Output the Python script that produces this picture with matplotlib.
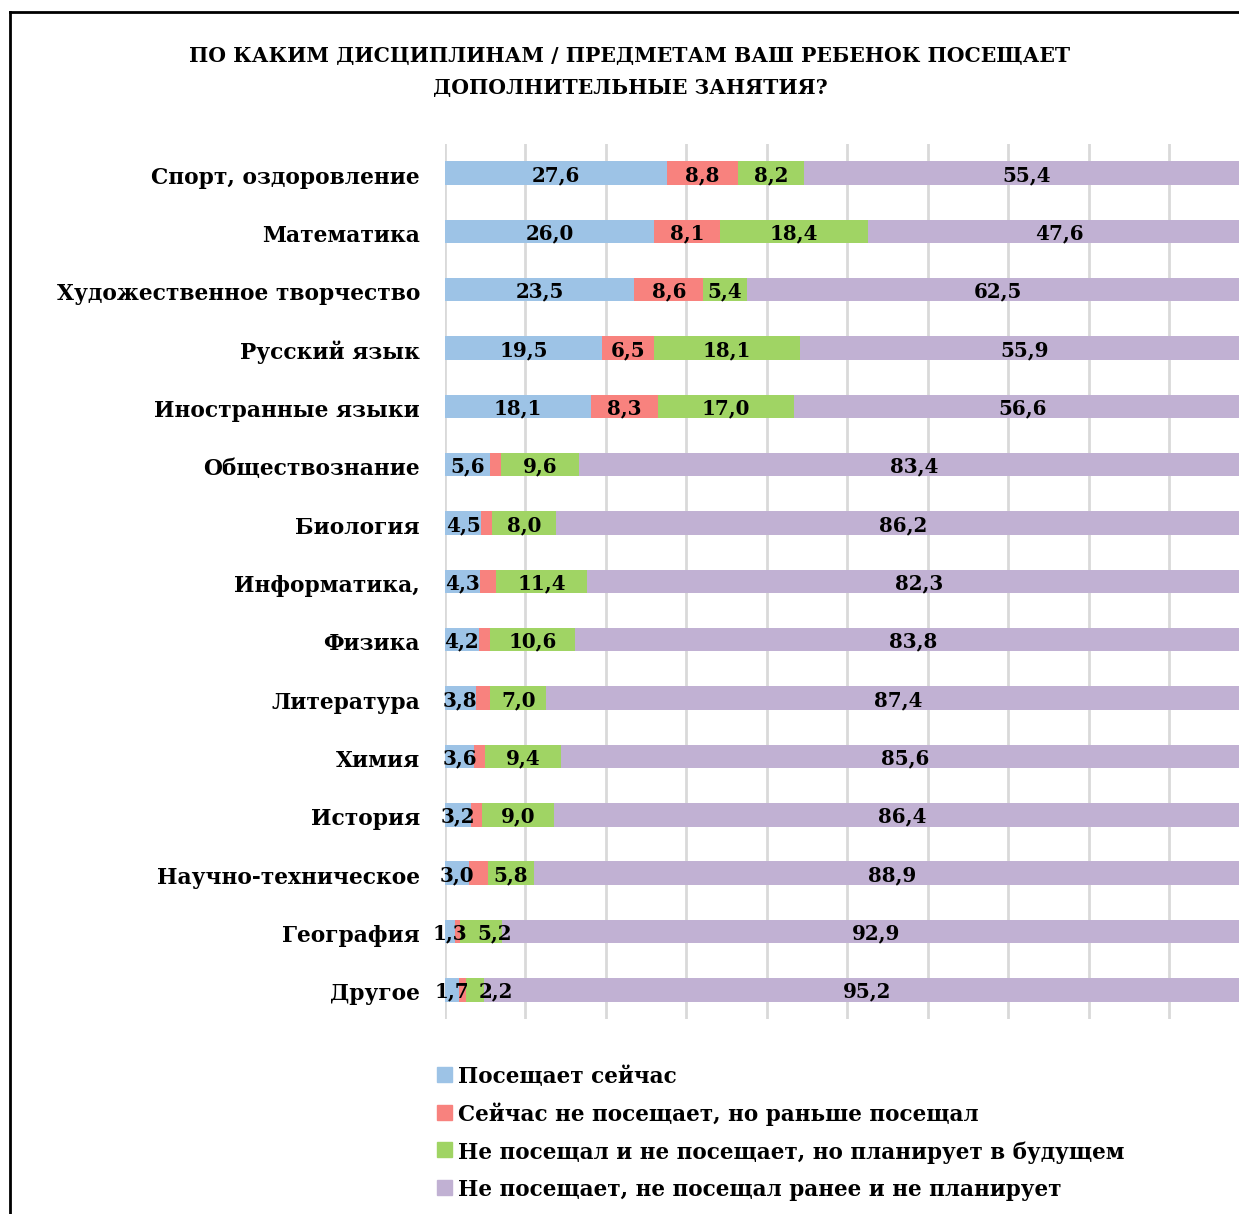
import matplotlib
matplotlib.use("Agg")
import matplotlib.pyplot as plt
import matplotlib.transforms as mtransforms
from matplotlib.patches import Rectangle
import numpy as np

categories = [
    "Спорт, оздоровление", "Математика", "Художественное творчество",
    "Русский язык", "Иностранные языки", "Обществознание", "Биология",
    "Информатика,", "Физика", "Литература", "Химия", "История",
    "Научно-техническое", "География", "Другое",
]
now = [27.6, 26.0, 23.5, 19.5, 18.1, 5.6, 4.5, 4.3, 4.2, 3.8, 3.6, 3.2, 3.0, 1.3, 1.7]
before = [8.8, 8.1, 8.6, 6.5, 8.3, 1.4, 1.3, 2.0, 1.4, 1.8, 1.4, 1.4, 2.3, 0.6, 0.9]
plans = [8.2, 18.4, 5.4, 18.1, 17.0, 9.6, 8.0, 11.4, 10.6, 7.0, 9.4, 9.0, 5.8, 5.2, 2.2]
never = [55.4, 47.6, 62.5, 55.9, 56.6, 83.4, 86.2, 82.3, 83.8, 87.4, 85.6, 86.4, 88.9, 92.9, 95.2]

series_names = [
    "Посещает сейчас",
    "Сейчас не посещает, но раньше посещал",
    "Не посещал и не посещает, но планирует в будущем",
    "Не посещает, не посещал ранее и не планирует",
]
colors = ["#9dc3e6", "#f8827e", "#a0d464", "#c1b1d3"]

FONT = "DejaVu Serif"
W, H = 1239, 1214
fig = plt.figure(figsize=(W / 100, H / 100), dpi=100)

# axes: x=0 at px 445, x=100 at px 1250 (runs past right edge)
ax = fig.add_axes([445 / W, 1 - 1019 / H, 805 / W, 875 / H])
y = np.arange(len(categories))
left = np.zeros(len(categories))
data = [now, before, plans, never]
down = mtransforms.ScaledTranslation(0, -2 / 100, fig.dpi_scale_trans)
row_labels = [[] for _ in categories]
for k, vals in enumerate(data):
    vals = np.array(vals)
    ax.barh(y, vals, left=left, height=0.4, color=colors[k], zorder=2)
    for i, v in enumerate(vals):
        if k == 1 and v < 5:
            continue
        t = ax.text(left[i] + v / 2, i, f"{v:.1f}".replace(".", ","), ha="center", va="center",
                    fontsize=14.3, fontweight="bold", family=FONT, zorder=3,
                    transform=ax.transData + down)
        row_labels[i].append(t)
    left += vals

ax.set_xlim(0, 100)
ax.set_ylim(len(categories) - 0.5, -0.5)
ax.set_xticks(np.arange(0, 101, 10))
ax.xaxis.grid(True, color="#d9d9d9", lw=2, zorder=0)
ax.tick_params(axis="x", length=0, labelbottom=False)
ax.tick_params(axis="y", length=0, pad=18)
ax.set_yticks(y)
ax.set_yticklabels(categories, fontsize=15.7, fontweight="bold", family=FONT)
for lab in ax.get_yticklabels():
    lab.set_transform(lab.get_transform() + down)
for s in ax.spines.values():
    s.set_visible(False)

# push crowded value labels apart (as the spreadsheet does)
fig.canvas.draw()
r = fig.canvas.get_renderer()
inv = ax.transData.inverted()
for labels in row_labels:
    for a, b in zip(labels, labels[1:]):
        ea = a.get_window_extent(r)
        eb = b.get_window_extent(r)
        gap = ea.x1 + 10 - eb.x0
        if gap > 0:
            x0 = inv.transform((0, 0))[0]
            dx = inv.transform((gap, 0))[0] - x0
            bx, by = b.get_position()
            b.set_position((bx + dx, by))

fig.text(630 / W, 1 - 56 / H, "ПО КАКИМ ДИСЦИПЛИНАМ / ПРЕДМЕТАМ ВАШ РЕБЕНОК ПОСЕЩАЕТ",
         ha="center", va="center", fontsize=14.7, fontweight="bold", family=FONT)
fig.text(630 / W, 1 - 88 / H, "ДОПОЛНИТЕЛЬНЫЕ ЗАНЯТИЯ?",
         ha="center", va="center", fontsize=14.7, fontweight="bold", family=FONT)

# legend
for k, name in enumerate(series_names):
    yc = 1075 + k * 37.7
    fig.patches.append(Rectangle((437 / W, 1 - (yc + 7) / H), 15 / W, 15 / H,
                                 transform=fig.transFigure, color=colors[k]))
    fig.text(458 / W, 1 - (yc + 2) / H, name, ha="left", va="center",
             fontsize=15.5, fontweight="bold", family=FONT)

# outer frame
fig.add_artist(plt.Line2D([10 / W, 10 / W], [1 - 12 / H, 0], transform=fig.transFigure,
                          color="black", lw=2))
fig.add_artist(plt.Line2D([10 / W, 1], [1 - 12 / H, 1 - 12 / H], transform=fig.transFigure,
                          color="black", lw=2))

fig.savefig("out.png", dpi=100)
